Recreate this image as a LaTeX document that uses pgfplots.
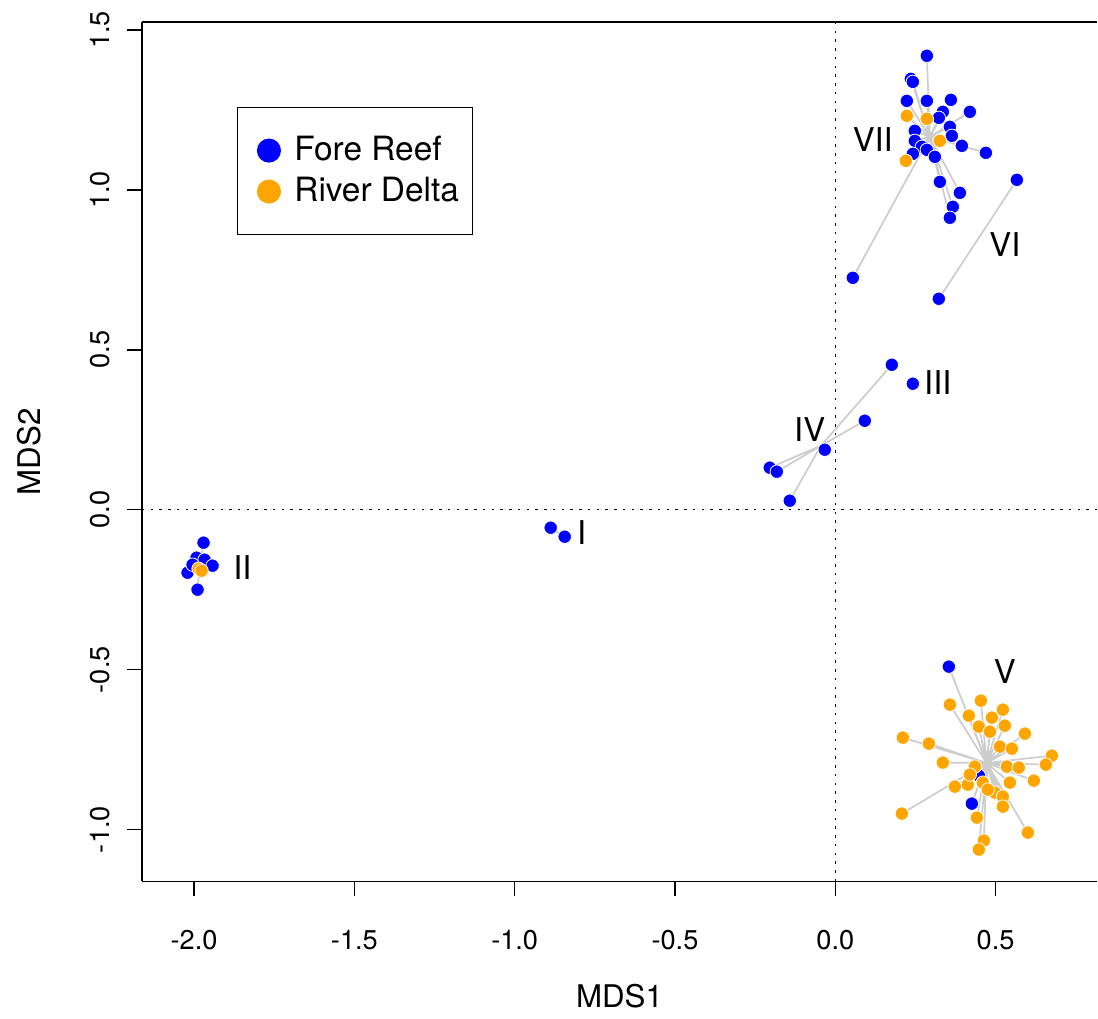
\documentclass[border=0pt]{standalone}
\usepackage{fontspec}
\setmainfont{TeX Gyre Heros}
\usepackage{pgfplots}
\pgfplotsset{compat=1.18}
\definecolor{rorange}{RGB}{255,165,0}
\definecolor{spidercol}{RGB}{205,205,205}

\begin{document}
\begin{tikzpicture}
\begin{axis}[
  scale only axis,
  width=305.9pt, height=275.2pt,
  xmin=-2.163, xmax=0.817, ymin=-1.162, ymax=1.525,
  axis x line*=box, axis y line*=left,
  xtick pos=bottom, ytick pos=left,
  xtick={-2,-1.5,-1,-0.5,0,0.5},
  ytick={-1,-0.5,0,0.5,1,1.5},
  tick align=outside,
  major tick length=4.8pt,
  tick style={black, line width=0.5pt},
  axis line style={line width=0.5pt},
  /pgf/number format/assume math mode=true,
  /pgf/number format/.cd, fixed, fixed zerofill, precision=1, /pgfplots/.cd,
  tick label style={font=\fontsize{8.7}{10}\selectfont},
  label style={font=\fontsize{8.7}{10}\selectfont},
  xticklabel shift=7.3pt,
  yticklabel shift=2pt,
  yticklabel style={rotate=90, anchor=south},
  xlabel={MDS1}, ylabel={MDS2},
  every axis x label/.style={at={(axis description cs:0.5,-0.134)}, anchor=center},
  every axis y label/.style={at={(axis description cs:-0.118,0.5)}, rotate=90, anchor=center},
  legend cell align=left,
  legend style={at={(0.0994,0.9012)}, anchor=north west, draw=black, line width=0.5pt,
    font=\fontsize{10.7}{12}\selectfont, inner xsep=3.8pt, inner ysep=8.6pt,
    row sep=2.8pt, nodes={inner sep=0.5pt}},
  pts/.style={only marks, mark=*, mark size=2.15pt},
  spider/.style={spidercol, line width=0.55pt, line join=round, no markers, forget plot},
  clip=false,
]
% reference lines
\addplot[black, line width=0.5pt, dash pattern=on 0.8pt off 2pt, forget plot] coordinates {(0,-1.162) (0,1.525)};
\addplot[black, line width=0.5pt, dash pattern=on 0.8pt off 2pt, forget plot] coordinates {(-2.163,0) (0.817,0)};

% Fore Reef
\addplot[pts, mark options={fill=blue, draw=white, line width=0.25pt},
  legend image code/.code={\path (-6pt,0pt) (7.4pt,0pt); \fill[blue] (0pt,0pt) circle (3.6pt);}] coordinates {
  (-1.9704,-0.1031) (-1.9891,-0.25) (-2.0203,-0.1969) (-1.9922,-0.15) (-1.9672,-0.1563) (-1.9423,-0.175) (-2.0047,-0.1719)
  (-0.8877,-0.0563) (-0.8440,-0.0844)
  (0.1763,0.4531) (0.0920,0.2781) (-0.0328,0.1875) (-0.2044,0.1313) (-0.1825,0.1188) (-0.1420,0.0281)
  (0.2418,0.3938)
  (0.5663,1.0313) (0.3229,0.6594)
  (0.2855,1.419) (0.2356,1.3469) (0.2418,1.3375) (0.2231,1.2781) (0.2855,1.2781) (0.3604,1.2813) (0.4197,1.2438) (0.3354,1.2438)
  (0.3229,1.225) (0.2480,1.1844) (0.3573,1.1969) (0.3635,1.1688) (0.2480,1.1531) (0.2699,1.1344) (0.3947,1.1375) (0.4696,1.1156)
  (0.2418,1.1125) (0.2855,1.125) (0.3105,1.1031) (0.3261,1.025) (0.3885,0.9906) (0.3666,0.9469) (0.3573,0.9125) (0.0546,0.725)
  (0.3541,-0.4906) (0.4259,-0.9188) (0.4477,-0.8313)
};
\addlegendentry{Fore Reef}

% River Delta
\addplot[pts, mark options={fill=rorange, draw=white, line width=0.25pt},
  legend image code/.code={\path (-6pt,0pt) (7.4pt,0pt); \fill[rorange] (0pt,0pt) circle (3.6pt);}] coordinates {
  (-1.9860,-0.1844) (-1.9766,-0.1906)
  (0.2231,1.2313) (0.2855,1.2219) (0.3261,1.1531) (0.2200,1.0906)
  (0.4540,-0.5969) (0.3573,-0.6094) (0.5226,-0.625) (0.4165,-0.6438) (0.4883,-0.65) (0.4477,-0.6781) (0.5289,-0.675) (0.5913,-0.7)
  (0.2106,-0.7125) (0.2917,-0.7313) (0.4821,-0.6938) (0.5133,-0.7406) (0.5507,-0.7469) (0.6755,-0.7688) (0.6568,-0.7969) (0.3354,-0.7906)
  (0.4352,-0.8031) (0.5351,-0.8031) (0.5725,-0.8063) (0.6193,-0.8469) (0.4134,-0.8594) (0.3729,-0.8656) (0.4602,-0.8531) (0.5445,-0.8531)
  (0.4977,-0.8844) (0.5226,-0.8969) (0.5226,-0.9281) (0.4415,-0.9625) (0.2075,-0.95) (0.6006,-1.0094) (0.4633,-1.0344) (0.4477,-1.0625)
  (0.4758,-0.875) (0.4196,-0.8281)
};
\addlegendentry{River Delta}

% spiders: centroid to every member
% II
\addplot[spider] coordinates {
  (-1.9829,-0.1813) (-1.9704,-0.1031) (-1.9829,-0.1813) (-1.9891,-0.25) (-1.9829,-0.1813) (-2.0203,-0.1969)
  (-1.9829,-0.1813) (-1.9922,-0.15) (-1.9829,-0.1813) (-1.9672,-0.1563) (-1.9829,-0.1813) (-1.9423,-0.175)
  (-1.9829,-0.1813) (-2.0047,-0.1719) (-1.9829,-0.1813) (-1.9860,-0.1844) (-1.9829,-0.1813) (-1.9766,-0.1906)
};
% I
\addplot[spider] coordinates {(-0.8877,-0.0563) (-0.8440,-0.0844)};
% IV
\addplot[spider] coordinates {
  (-0.045,0.2) (0.1763,0.4531) (-0.045,0.2) (0.0920,0.2781) (-0.045,0.2) (-0.0328,0.1875)
  (-0.045,0.2) (-0.2044,0.1313) (-0.045,0.2) (-0.1825,0.1188) (-0.045,0.2) (-0.1420,0.0281)
};
% VI
\addplot[spider] coordinates {(0.5663,1.0313) (0.3229,0.6594)};
% VII
\addplot[spider] coordinates {
  (0.2949,1.1656) (0.2855,1.419) (0.2949,1.1656) (0.2356,1.3469) (0.2949,1.1656) (0.2418,1.3375)
  (0.2949,1.1656) (0.2231,1.2781) (0.2949,1.1656) (0.2855,1.2781) (0.2949,1.1656) (0.3604,1.2813)
  (0.2949,1.1656) (0.4197,1.2438) (0.2949,1.1656) (0.3354,1.2438) (0.2949,1.1656) (0.3229,1.225)
  (0.2949,1.1656) (0.2480,1.1844) (0.2949,1.1656) (0.3573,1.1969) (0.2949,1.1656) (0.3635,1.1688)
  (0.2949,1.1656) (0.2480,1.1531) (0.2949,1.1656) (0.2699,1.1344) (0.2949,1.1656) (0.3947,1.1375)
  (0.2949,1.1656) (0.4696,1.1156) (0.2949,1.1656) (0.2418,1.1125) (0.2949,1.1656) (0.2855,1.125)
  (0.2949,1.1656) (0.3105,1.1031) (0.2949,1.1656) (0.3261,1.025) (0.2949,1.1656) (0.3885,0.9906)
  (0.2949,1.1656) (0.3666,0.9469) (0.2949,1.1656) (0.3573,0.9125) (0.2949,1.1656) (0.0546,0.725)
  (0.2949,1.1656) (0.2231,1.2313) (0.2949,1.1656) (0.2855,1.2219) (0.2949,1.1656) (0.3261,1.1531)
  (0.2949,1.1656) (0.2200,1.0906)
};
% V
\addplot[spider] coordinates {
  (0.4718,-0.7916) (0.3541,-0.4906) (0.4718,-0.7916) (0.4259,-0.9188) (0.4718,-0.7916) (0.4477,-0.8313)
  (0.4718,-0.7916) (0.4540,-0.5969) (0.4718,-0.7916) (0.3573,-0.6094) (0.4718,-0.7916) (0.5226,-0.625)
  (0.4718,-0.7916) (0.4165,-0.6438) (0.4718,-0.7916) (0.4883,-0.65) (0.4718,-0.7916) (0.4477,-0.6781)
  (0.4718,-0.7916) (0.5289,-0.675) (0.4718,-0.7916) (0.5913,-0.7) (0.4718,-0.7916) (0.2106,-0.7125)
  (0.4718,-0.7916) (0.2917,-0.7313) (0.4718,-0.7916) (0.4821,-0.6938) (0.4718,-0.7916) (0.5133,-0.7406)
  (0.4718,-0.7916) (0.5507,-0.7469) (0.4718,-0.7916) (0.6755,-0.7688) (0.4718,-0.7916) (0.6568,-0.7969)
  (0.4718,-0.7916) (0.3354,-0.7906) (0.4718,-0.7916) (0.4352,-0.8031) (0.4718,-0.7916) (0.5351,-0.8031)
  (0.4718,-0.7916) (0.5725,-0.8063) (0.4718,-0.7916) (0.6193,-0.8469) (0.4718,-0.7916) (0.4134,-0.8594)
  (0.4718,-0.7916) (0.3729,-0.8656) (0.4718,-0.7916) (0.4602,-0.8531) (0.4718,-0.7916) (0.5445,-0.8531)
  (0.4718,-0.7916) (0.4977,-0.8844) (0.4718,-0.7916) (0.5226,-0.8969) (0.4718,-0.7916) (0.5226,-0.9281)
  (0.4718,-0.7916) (0.4415,-0.9625) (0.4718,-0.7916) (0.2075,-0.95) (0.4718,-0.7916) (0.6006,-1.0094)
  (0.4718,-0.7916) (0.4633,-1.0344) (0.4718,-0.7916) (0.4477,-1.0625) (0.4718,-0.7916) (0.4758,-0.875)
  (0.4718,-0.7916) (0.4196,-0.8281)
};

% group labels
\begin{scope}[every node/.style={font=\fontsize{10.5}{12}\selectfont, anchor=center}]
\node at (axis cs:0.117,1.156) {VII};
\node at (axis cs:0.529,0.828) {VI};
\node at (axis cs:0.320,0.397) {III};
\node at (axis cs:-0.080,0.250) {IV};
\node at (axis cs:-0.791,-0.072) {I};
\node at (axis cs:-1.849,-0.181) {II};
\node at (axis cs:0.529,-0.506) {V};
\end{scope}

% page margins like the reference
\path (rel axis cs:0,0) ++(-45.4pt,-41.6pt);
\path (rel axis cs:1,1) ++(0pt,7pt);
\end{axis}
\end{tikzpicture}
\end{document}
